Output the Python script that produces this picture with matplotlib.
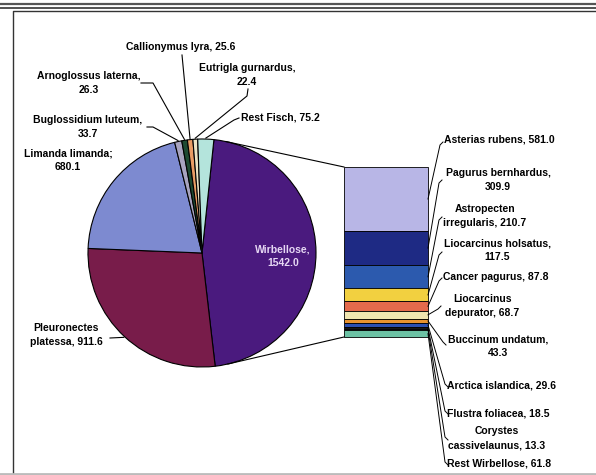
import numpy as np
import matplotlib.pyplot as plt

plt.rcParams['font.family'] = ['Liberation Sans', 'DejaVu Sans']

# Fish catch (pie) - Wirbellose is split out into the bar
fish_names = ['Wirbellose', 'Pleuronectes\nplatessa', 'Limanda limanda', 'Buglossidium luteum',
              'Arnoglossus laterna', 'Callionymus lyra', 'Eutrigla gurnardus', 'Rest Fisch']
fish_values = [1542.0, 911.6, 680.1, 33.7, 26.3, 25.6, 22.4, 75.2]
fish_seps = [',\n', ', ', ';\n', ',\n', ',\n', ', ', ',\n', ', ']
fish_colors = ['#4a1a7e', '#781c4a', '#7d8ad0', '#a8a4c0', '#1e4a32', '#e89c64', '#ece4c4', '#b4e4dc']

# Invertebrates (bar)
inv_names = ['Asterias rubens', 'Pagurus bernhardus', 'Astropecten\nirregularis',
             'Liocarcinus holsatus', 'Cancer pagurus', 'Liocarcinus\ndepurator',
             'Buccinum undatum', 'Arctica islandica', 'Flustra foliacea',
             'Corystes\ncassivelaunus', 'Rest Wirbellose']
inv_values = [581.0, 309.9, 210.7, 117.5, 87.8, 68.7, 43.3, 29.6, 18.5, 13.3, 61.8]
inv_seps = [', ', ',\n', ', ', ',\n', ', ', ', ', ',\n', ', ', ', ', ', ', ', ']
inv_colors = ['#b8b6e6', '#1e2a84', '#2c5aae', '#f2d040', '#e46a4c', '#f0e6b0',
              '#e8922e', '#2a4eb0', '#151515', '#3a2a60', '#6cc2a4']

W, H = 596, 475
fig = plt.figure(figsize=(W / 100, H / 100), dpi=100)
ax = fig.add_axes([0, 0, 1, 1])

# pie geometry (pixel units, y pointing down)
cx, cy, r = 202, 253, 114
start = 6  # degrees clockwise from 12 o'clock

wedges, _ = ax.pie(fish_values, colors=fish_colors, center=(cx, cy), radius=r,
                   startangle=-90 + start, counterclock=True, frame=True,
                   wedgeprops=dict(edgecolor='black', linewidth=0.8))

# stacked bar for the invertebrates
bx, bw, btop, bh = 386, 84, 167, 170
scale = bh / sum(inv_values)
heights = np.array(inv_values) * scale
bottoms = btop + np.concatenate([[0], np.cumsum(heights)[:-1]])
ax.bar(bx, heights, bottom=bottoms, width=bw, color=inv_colors,
       edgecolor='black', linewidth=0.6)

ax.set_xlim(0, W)
ax.set_ylim(H, 0)
ax.set_aspect('equal')
ax.axis('off')


def edge_point(deg, rad=r):
    a = np.deg2rad(deg)
    return cx + rad * np.sin(a), cy - rad * np.cos(a)


# tangent lines from bar corners to the pie
for corner, sgn in [((bx - bw / 2, btop), -1), ((bx - bw / 2, btop + bh), 1)]:
    px, py = corner
    d = np.hypot(px - cx, py - cy)
    phi = np.arctan2(py - cy, px - cx) + sgn * np.arccos(r / d)
    tx, ty = cx + r * np.cos(phi), cy + r * np.sin(phi)
    ax.plot([tx, px], [ty, py], color='black', lw=0.8)

# slice mid angles (clockwise from top)
fracs = np.array(fish_values) / sum(fish_values) * 360
mids = start + np.cumsum(fracs) - fracs / 2

txt = dict(fontsize=7.5, fontweight='bold', linespacing=1.5, va='center')

# pie labels: (x, y, ha, leader waypoints from the label side)
fish_layout = [
    (283, 256, 'center', None),
    (66, 335, 'center', [(110, 338)]),
    (68, 160, 'center', None),
    (88, 127, 'center', [(147, 127), (153, 127)]),
    (89, 83, 'center', [(141, 83), (153, 83)]),
    (181, 47, 'center', [(182, 55)]),
    (247, 75, 'center', [(248, 89), (247, 96)]),
    (241, 118, 'left', [(239, 118), (234, 120)]),
]
for i, (x, y, ha, way) in enumerate(fish_layout):
    label = f'{fish_names[i]}{fish_seps[i]}{fish_values[i]:.1f}'
    color = '#e6d8f4' if i == 0 else 'black'
    ax.text(x, y, label, ha=ha, multialignment='center', color=color, **txt)
    if way:
        ex, ey = edge_point(mids[i], r + 1)
        xs = [p[0] for p in way] + [ex]
        ys = [p[1] for p in way] + [ey]
        ax.plot(xs, ys, color='black', lw=0.8)

# bar labels: (x, y, ha, hook point)
inv_layout = [
    (444, 140, 'left', (440, 142)),
    (498, 180, 'center', (439, 180)),
    (485, 216, 'center', (439, 217)),
    (497, 250, 'center', (439, 252)),
    (443, 277, 'left', (439, 278)),
    (482, 306, 'center', (438, 306)),
    (498, 346, 'center', (443, 345)),
    (447, 386, 'left', (445, 387)),
    (447, 414, 'left', (445, 414)),
    (497, 438, 'center', (445, 440)),
    (447, 464, 'left', (445, 465)),
]
mids_bar = bottoms + heights / 2
for i, (x, y, ha, (hx, hy)) in enumerate(inv_layout):
    label = f'{inv_names[i]}{inv_seps[i]}{inv_values[i]:.1f}'
    ax.text(x, y, label, ha=ha, multialignment='center', **txt)
    sx, sy = bx + bw / 2, mids_bar[i]
    d = 3 if hy < sy else -3
    ax.plot([sx, hx, hx + 3], [sy, hy + d, hy], color='black', lw=0.7)

# frame around the chart
ax.plot([0, W], [4, 4], color='#555555', lw=1.6)
ax.plot([0, W], [8, 8], color='#333333', lw=1.2)
ax.plot([13, 13, W], [H, 11, 11], color='#333333', lw=1.0)
ax.plot([0, W], [H - 1, H - 1], color='#bbbbbb', lw=2)

fig.savefig('out.png', dpi=100, facecolor='white')
